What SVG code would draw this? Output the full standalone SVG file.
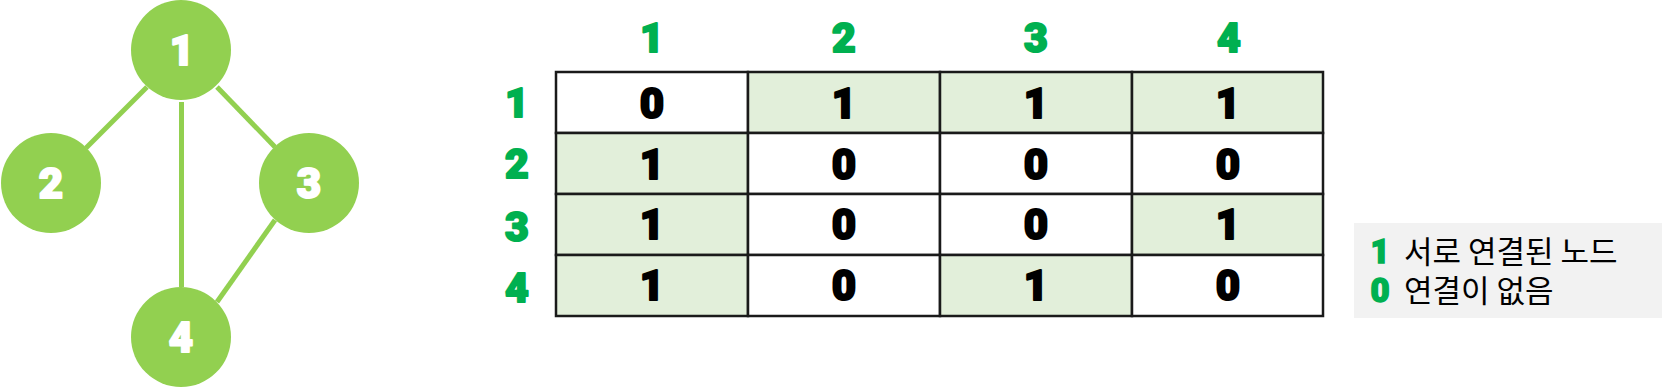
<svg xmlns="http://www.w3.org/2000/svg" width="1664" height="388" viewBox="0 0 1664 388">
<style>
.edge{stroke:#92D050;stroke-width:5;fill:none}
.node circle{fill:#92D050}
.num{font-family:Roboto,"Liberation Sans",sans-serif;font-weight:900;text-anchor:middle;stroke-linejoin:round}
.node text{fill:#fff;stroke:#fff;stroke-width:2;font-size:42px}
.hdr{fill:#00B050;stroke:#00B050;stroke-width:2;font-size:41px}
.cell rect{stroke:#1a1a1a;stroke-width:2.5}
.on{fill:#E2EFDA}
.off{fill:#fff}
.cell text{fill:#000;stroke:#000;stroke-width:2;font-size:42px}
.leg{font-family:"Noto Sans CJK KR","Noto Sans",sans-serif;font-size:31px;fill:#000}
.legnum{fill:#00B050;stroke:#00B050;stroke-width:1.5;font-family:Roboto,"Liberation Sans",sans-serif;font-weight:900;font-size:33px;text-anchor:middle}
</style>
<g id="connectors">
<line class="edge" x1="147" y1="87" x2="86" y2="148"/>
<line class="edge" x1="181.5" y1="102" x2="181.5" y2="287"/>
<line class="edge" x1="217" y1="87" x2="275" y2="147"/>
<line class="edge" x1="275" y1="220" x2="217" y2="302"/>
</g>
<g id="node1" class="node"><circle cx="181" cy="50" r="50"/><text class="num" x="182" y="65">1</text></g>
<g id="node2" class="node"><circle cx="51" cy="183" r="50"/><text class="num" x="51" y="198">2</text></g>
<g id="node3" class="node"><circle cx="309" cy="183" r="50"/><text class="num" x="309" y="198">3</text></g>
<g id="node4" class="node"><circle cx="181" cy="337" r="50"/><text class="num" x="181" y="352">4</text></g>
<g id="col-headers">
<text class="hdr num" x="652" y="52">1</text>
<text class="hdr num" x="844" y="52">2</text>
<text class="hdr num" x="1036" y="52">3</text>
<text class="hdr num" x="1229" y="52">4</text>
</g>
<g id="row-headers">
<text class="hdr num" x="517" y="117">1</text>
<text class="hdr num" x="517" y="178">2</text>
<text class="hdr num" x="517" y="241">3</text>
<text class="hdr num" x="517" y="302">4</text>
</g>
<g id="matrix" class="cell">
<rect class="off" x="556" y="72" width="192" height="61"/><text class="num" x="652" y="118">0</text>
<rect class="on" x="748" y="72" width="192" height="61"/><text class="num" x="844" y="118">1</text>
<rect class="on" x="940" y="72" width="192" height="61"/><text class="num" x="1036" y="118">1</text>
<rect class="on" x="1132" y="72" width="191" height="61"/><text class="num" x="1228" y="118">1</text>
<rect class="on" x="556" y="133" width="192" height="61"/><text class="num" x="652" y="179">1</text>
<rect class="off" x="748" y="133" width="192" height="61"/><text class="num" x="844" y="179">0</text>
<rect class="off" x="940" y="133" width="192" height="61"/><text class="num" x="1036" y="179">0</text>
<rect class="off" x="1132" y="133" width="191" height="61"/><text class="num" x="1228" y="179">0</text>
<rect class="on" x="556" y="194" width="192" height="61"/><text class="num" x="652" y="239">1</text>
<rect class="off" x="748" y="194" width="192" height="61"/><text class="num" x="844" y="239">0</text>
<rect class="off" x="940" y="194" width="192" height="61"/><text class="num" x="1036" y="239">0</text>
<rect class="on" x="1132" y="194" width="191" height="61"/><text class="num" x="1228" y="239">1</text>
<rect class="on" x="556" y="255" width="192" height="61"/><text class="num" x="652" y="300">1</text>
<rect class="off" x="748" y="255" width="192" height="61"/><text class="num" x="844" y="300">0</text>
<rect class="on" x="940" y="255" width="192" height="61"/><text class="num" x="1036" y="300">1</text>
<rect class="off" x="1132" y="255" width="191" height="61"/><text class="num" x="1228" y="300">0</text>
</g>
<g id="legend">
<rect x="1354" y="223" width="308" height="95" fill="#F2F2F2"/>
<text class="legnum" x="1380" y="263">1</text>
<text class="leg" x="1404" y="263">서로 연결된 노드</text>
<text class="legnum" x="1380" y="302">0</text>
<text class="leg" x="1404" y="302">연결이 없음</text>
</g>
</svg>
